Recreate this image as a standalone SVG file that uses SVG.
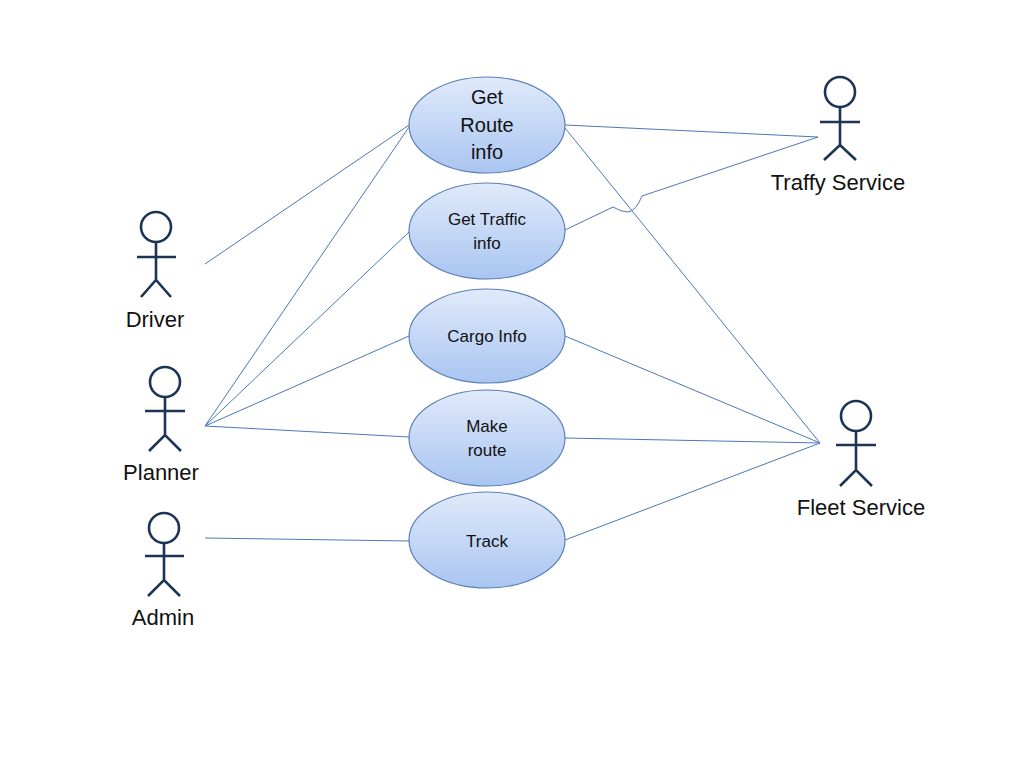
<svg xmlns="http://www.w3.org/2000/svg" width="1024" height="768" viewBox="0 0 1024 768">
<defs>
<linearGradient id="g" x1="0" y1="0" x2="0" y2="1">
<stop offset="0" stop-color="#e0eafa"/>
<stop offset="1" stop-color="#a9c5f1"/>
</linearGradient>
<style>
.uc{fill:url(#g);stroke:#5a7fb8;stroke-width:1.2}
.ln{fill:none;stroke:#4a78b8;stroke-width:1}
.act{fill:none;stroke:#1c3557;stroke-width:2.6}
.t{font-family:"Liberation Sans","Noto Sans",sans-serif;fill:#111;text-anchor:middle}
.tu{font-size:17px}
.tb{font-size:20px}
.ta{font-size:22px}
</style>
</defs>
<rect width="1024" height="768" fill="#fff"/>
<g id="connectors">
<line class="ln" x1="205" y1="264" x2="409" y2="125"/>
<line class="ln" x1="205" y1="426" x2="409" y2="127"/>
<line class="ln" x1="205" y1="426" x2="409" y2="232"/>
<line class="ln" x1="205" y1="426" x2="409" y2="336"/>
<line class="ln" x1="205" y1="426" x2="409" y2="437"/>
<line class="ln" x1="205" y1="538" x2="409" y2="541"/>
<line class="ln" x1="565" y1="125" x2="818" y2="137"/>
<line class="ln" x1="565" y1="128" x2="820" y2="443"/>
<path class="ln" d="M565,230 L613,207 Q621,212 628,212 Q636,211 642,196 L818,137"/>
<line class="ln" x1="565" y1="336" x2="820" y2="443"/>
<line class="ln" x1="565" y1="438" x2="820" y2="443"/>
<line class="ln" x1="565" y1="540" x2="820" y2="443"/>
</g>
<g id="uc-route"><ellipse class="uc" cx="487" cy="125" rx="78" ry="48"/>
<text class="t tb" x="487" y="104">Get</text><text class="t tb" x="487" y="132">Route</text><text class="t tb" x="487" y="159">info</text></g>
<g id="uc-traffic"><ellipse class="uc" cx="487" cy="231" rx="78" ry="48"/>
<text class="t tu" x="487" y="225">Get Traffic</text><text class="t tu" x="487" y="249">info</text></g>
<g id="uc-cargo"><ellipse class="uc" cx="487" cy="336" rx="78" ry="47"/>
<text class="t tu" x="487" y="342">Cargo Info</text></g>
<g id="uc-make"><ellipse class="uc" cx="487" cy="438" rx="78" ry="48"/>
<text class="t tu" x="487" y="432">Make</text><text class="t tu" x="487" y="456">route</text></g>
<g id="uc-track"><ellipse class="uc" cx="487" cy="540" rx="78" ry="48"/>
<text class="t tu" x="487" y="547">Track</text></g>
<g id="actor-driver" class="act">
<circle cx="156" cy="227" r="15"/><path d="M156,242 V280 M137,257 H176 M141,297 L156,280 L171,297"/>
</g>
<text class="t ta" x="155" y="327">Driver</text>
<g id="actor-planner" class="act">
<circle cx="165" cy="382" r="15"/><path d="M165,397 V435 M145,411 H185 M149,451 L165,435 L181,451"/>
</g>
<text class="t ta" x="161" y="480">Planner</text>
<g id="actor-admin" class="act">
<circle cx="164" cy="528" r="15"/><path d="M164,543 V580 M145,556 H184 M148,596 L164,580 L180,596"/>
</g>
<text class="t ta" x="163" y="625">Admin</text>
<g id="actor-traffy" class="act">
<circle cx="840" cy="92" r="15"/><path d="M840,107 V145 M820,122 H860 M824,160 L840,145 L856,160"/>
</g>
<text class="t ta" x="838" y="190">Traffy Service</text>
<g id="actor-fleet" class="act">
<circle cx="856" cy="416" r="15"/><path d="M856,431 V470 M836,445 H876 M840,486 L856,470 L872,486"/>
</g>
<text class="t ta" x="861" y="515">Fleet Service</text>
</svg>
